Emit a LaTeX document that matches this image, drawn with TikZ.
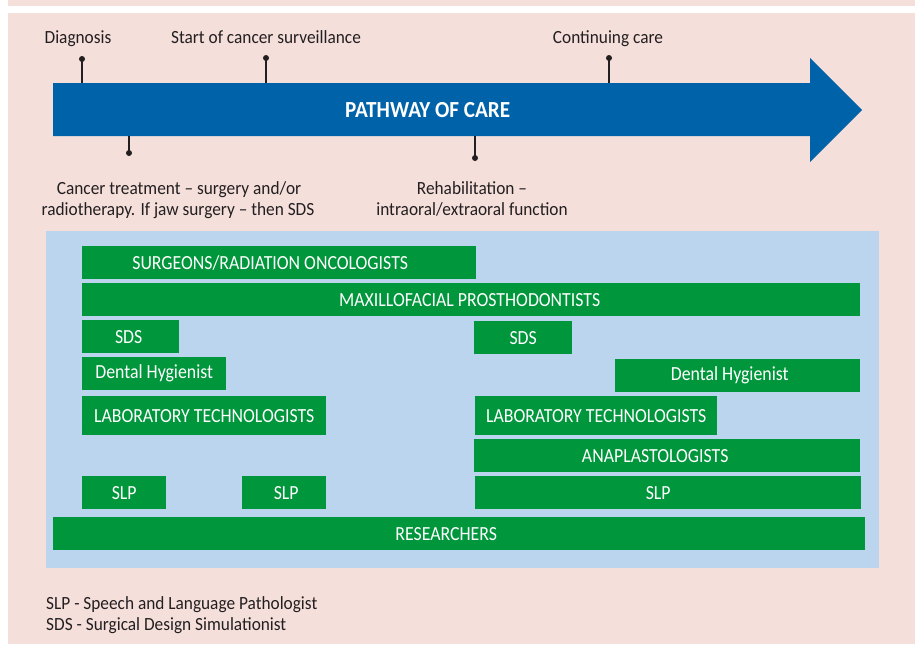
\documentclass[tikz,border=0pt]{standalone}
\usepackage{fontspec}
\setmainfont{Carlito}
\newfontfamily\lblfont[FakeStretch=0.93]{Carlito}
\newfontfamily\teamfont[FakeStretch=0.89]{Carlito}
\newfontfamily\titlefont[FakeStretch=0.92]{Carlito}
\definecolor{bgpink}{HTML}{F5DFDB}
\definecolor{pathblue}{HTML}{0062A8}
\definecolor{panelblue}{HTML}{BBD5EE}
\definecolor{teamgreen}{HTML}{00963B}
\definecolor{ink}{HTML}{231F20}
\tikzset{
  lbl/.style={text=ink, inner sep=0pt, font=\lblfont\fontsize{18.6}{21}\selectfont},
  stagedot/.style={circle, fill=ink, inner sep=0pt, minimum size=6pt},
  stem/.style={draw=ink, line width=1.3pt},
  team/.style={fill=teamgreen, text=white, inner sep=0pt, anchor=north west,
    minimum height=33pt, font=\teamfont\fontsize{20}{22}\selectfont},
}
\begin{document}
\begin{tikzpicture}[x=1pt,y=-1pt]
\useasboundingbox (0,0) rectangle (920,646);
\fill[white] (0,0) rectangle (920,646);
% page background bands
\fill[bgpink] (8,0) rectangle (915,6);
\fill[bgpink] (8,13) rectangle (915,644);

% timeline arrow
\fill[pathblue] (53,83) -- (810,83) -- (810,58) -- (862,110) -- (810,162)
  -- (810,136) -- (53,136) -- cycle;
\node[minimum width=757pt, minimum height=53pt, inner sep=0pt, anchor=north west,
  text=white, font=\titlefont\fontsize{23}{26}\selectfont\bfseries] (pathway) at (53,83)
  {\hspace*{-8pt}PATHWAY OF CARE};

% stages above the arrow
\node[stagedot] (dDiag) at (82,59) {};
\node[stagedot] (dSurv) at (266,58) {};
\node[stagedot] (dCont) at (609,58) {};
\draw[stem] (dDiag.center) -- (dDiag.center |- pathway.north);
\draw[stem] (dSurv.center) -- (dSurv.center |- pathway.north);
\draw[stem] (dCont.center) -- (dCont.center |- pathway.north);
\node[lbl, anchor=base] (tDiag) at (78,43) {Diagnosis};
\node[lbl, anchor=base] (tSurv) at (266,43) {Start of cancer surveillance};
\node[lbl, anchor=base] (tCont) at (608,43) {Continuing care};

% stages below the arrow
\node[stagedot] (dTreat) at (129,153) {};
\node[stagedot] (dRehab) at (475,158) {};
\draw[stem] (dTreat.center) -- (dTreat.center |- pathway.south);
\draw[stem] (dRehab.center) -- (dRehab.center |- pathway.south);
\node[lbl, anchor=base] (tTreat1) at (179,194) {Cancer treatment – surgery and/or};
\node[lbl, anchor=base] (tTreat2) at (178,215) {radiotherapy. If jaw surgery – then SDS};
\node[lbl, anchor=base] (tRehab1) at (472,194) {Rehabilitation –};
\node[lbl, anchor=base] (tRehab2) at (472,215) {intraoral/extraoral function};

% care team panel
\fill[panelblue] (46,231) rectangle (879,568);
\node[team, minimum width=394pt] (surg) at (82,246) {SURGEONS/RADIATION ONCOLOGISTS\hspace*{18pt}};
\node[team, minimum width=778pt] (maxi) at (82,283) {MAXILLOFACIAL PROSTHODONTISTS\hspace*{3pt}};
\node[team, minimum width=97pt]  (sdsA) at (82,320) {SDS\hspace*{4pt}};
\node[team, minimum width=98pt]  (sdsB) at (474,321) {SDS};
\node[team, minimum width=144pt] (dhA)  at (82,357) {Dental Hygienist};
\node[team, minimum width=245pt] (dhB)  at (615,359) {Dental Hygienist\hspace*{16pt}};
\node[team, minimum width=244pt, minimum height=39pt] (labA) at (82,396) {LABORATORY TECHNOLOGISTS};
\node[team, minimum width=242pt, minimum height=39pt] (labB) at (475,396) {LABORATORY TECHNOLOGISTS};
\node[team, minimum width=386pt] (ana)  at (474,439) {ANAPLASTOLOGISTS\hspace*{24pt}};
\node[team, minimum width=84pt]  (slpA) at (82,476) {SLP};
\node[team, minimum width=84pt]  (slpB) at (242,476) {\hspace*{4pt}SLP};
\node[team, minimum width=386pt] (slpC) at (475,476) {SLP\hspace*{20pt}};
\node[team, minimum width=812pt] (res)  at (53,517) {RESEARCHERS\hspace*{26pt}};

% abbreviations
\node[lbl, anchor=base west] (keySLP) at (46,609) {SLP - Speech and Language Pathologist};
\node[lbl, anchor=base west] (keySDS) at (46,630) {SDS - Surgical Design Simulationist};
\end{tikzpicture}
\end{document}
